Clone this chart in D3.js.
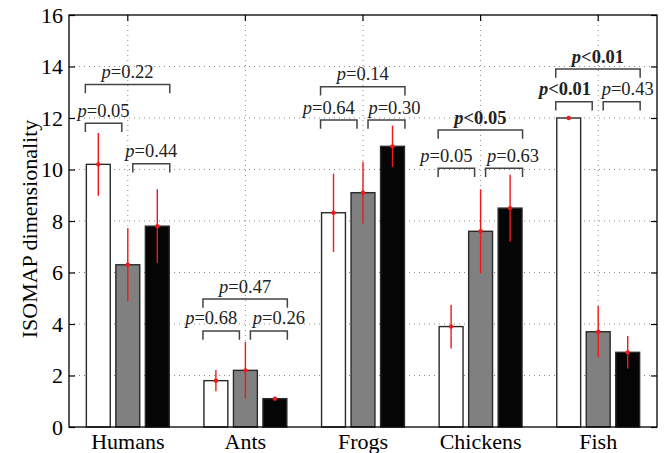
<!DOCTYPE html>
<html><head><meta charset="utf-8">
<script src="https://cdn.jsdelivr.net/npm/d3@7"></script>
<style>body{margin:0;background:#fff}svg{display:block}</style>
</head><body>
<svg id="chart" width="667" height="453"></svg>
<script>
const categories = ["Humans","Ants","Frogs","Chickens","Fish"];
const seriesNames = ["white","gray","black"];
const valuesWhite = [10.2, 1.8, 8.32, 3.9, 12.0];
const valuesGray  = [6.3, 2.2, 9.1, 7.6, 3.7];
const valuesBlack = [7.8, 1.1, 10.9, 8.5, 2.9];
const errWhite = [1.22, 0.41, 1.52, 0.85, 0.02];
const errGray  = [1.42, 1.1, 1.2, 1.63, 1.0];
const errBlack = [1.43, 0.07, 0.8, 1.3, 0.63];
const yTicks = [0,2,4,6,8,10,12,14,16];
// p-value annotations: white vs gray, gray vs black, white vs black
const pWG = ["=0.05","=0.68","=0.64","=0.05","<0.01"];
const pGB = ["=0.44","=0.26","=0.30","=0.63","=0.43"];
const pWB = ["=0.22","=0.47","=0.14","<0.05","<0.01"];
const boldWG = [false,false,false,false,true];
const boldGB = [false,false,false,false,false];
const boldWB = [false,false,false,true,true];
const levelWG = [11.8, 3.73, 11.92, 10.05, 12.63];
const levelGB = [10.22, 3.73, 11.92, 10.05, 12.63];
const levelWB = [13.3, 4.97, 13.21, 11.53, 13.9];
// horizontal nudge of the lower labels away from each other (px)
const nudgeWG = [0, -10, -10, -10, -9];
const nudgeGB = [0, 10, 8, 9, 6];

const values = [valuesWhite, valuesGray, valuesBlack];
const errs = [errWhite, errGray, errBlack];
const fills = ["#ffffff","#808080","#050505"];

const L = 69, R = 657, T = 15, B = 427;
const svg = d3.select("#chart");
const font = "'Liberation Serif','Times New Roman',serif";

const x = d3.scaleBand().domain(categories).range([L, R]).padding(0);
const cx = c => x(c) + x.bandwidth()/2;
const xs = d3.scaleBand().domain(seriesNames).range([-44.25, 44.25]).paddingInner(0.19).paddingOuter(0.095);
const y = d3.scaleLinear().domain([0,16]).range([B, T]);

// grid
const grid = svg.append("g").attr("stroke","#8a8a8a").attr("stroke-width",1).attr("stroke-dasharray","1,4");
grid.selectAll("line.h").data(yTicks.filter(t => t>0 && t<16)).join("line")
  .attr("x1",L).attr("x2",R).attr("y1",d=>y(d)).attr("y2",d=>y(d));
grid.selectAll("line.v").data(categories).join("line")
  .attr("x1",d=>cx(d)).attr("x2",d=>cx(d)).attr("y1",T).attr("y2",B);

// axes
const axL = d3.axisLeft(y).tickValues(yTicks).tickSize(-6).tickPadding(12).tickFormat(d3.format("d"));
const axR = d3.axisRight(y).tickValues(yTicks).tickSize(-6).tickFormat("");
const axT = d3.axisTop(x).tickSize(-6).tickFormat("");
const axB = d3.axisBottom(x).tickSize(-6).tickPadding(16);
function styleAxis(g){
  g.select(".domain").remove();
  g.selectAll(".tick line").attr("stroke","#000").attr("stroke-width",1.2);
  g.selectAll("text").attr("font-family",font).attr("font-size",22).attr("fill","#000");
}
svg.append("g").attr("transform",`translate(${L},0)`).call(axL).call(styleAxis)
  .selectAll("text").attr("x",-6).attr("dy","0.33em");
svg.append("g").attr("transform",`translate(${R},0)`).call(axR).call(styleAxis);
svg.append("g").attr("transform",`translate(0,${T})`).call(axT).call(styleAxis);
const gB = svg.append("g").attr("transform",`translate(0,${B})`).call(axB).call(styleAxis);
gB.selectAll("text").attr("y",null).attr("dy",null).attr("transform","translate(0,22)");

// bars
seriesNames.forEach((s,si) => {
  svg.append("g").selectAll("rect").data(categories).join("rect")
    .attr("x", c => cx(c) + xs(s))
    .attr("width", xs.bandwidth())
    .attr("y", (c,i) => y(values[si][i]))
    .attr("height", (c,i) => y(0) - y(values[si][i]))
    .attr("fill", fills[si]).attr("stroke","#2a2a2a").attr("stroke-width",1.4);
});

// error bars
seriesNames.forEach((s,si) => {
  const g = svg.append("g");
  categories.forEach((c,i) => {
    const xc = cx(c) + xs(s) + xs.bandwidth()/2;
    const v = values[si][i], e = errs[si][i];
    g.append("line").attr("x1",xc).attr("x2",xc).attr("y1",y(v+e)).attr("y2",y(v-e))
      .attr("stroke","#f01818").attr("stroke-width",1.4);
    g.append("circle").attr("cx",xc).attr("cy",y(v)).attr("r",2.2).attr("fill","#f01818");
  });
});

// brackets + p labels
const tickLen = 0.34;
function bracket(x1, x2, lvl, label, bold, nudge){
  const g = svg.append("g");
  g.append("path")
    .attr("d", `M${x1},${y(lvl - tickLen)}V${y(lvl)}H${x2}V${y(lvl - tickLen)}`)
    .attr("fill","none").attr("stroke","#444").attr("stroke-width",1.5);
  const t = g.append("text").attr("x",(x1+x2)/2 + nudge).attr("y",y(lvl)-6.5)
    .attr("text-anchor","middle").attr("font-family",font).attr("font-size",18.5)
    .attr("fill","#222").attr("font-weight", bold ? "bold" : "normal");
  t.append("tspan").attr("font-style","italic").text("p");
  t.append("tspan").text(label);
}
categories.forEach((c,i) => {
  const wl = cx(c) + xs("white") - 1;
  const gc = cx(c) + xs("gray") + xs.bandwidth()/2;
  const br = cx(c) + xs("black") + xs.bandwidth() + 0.5;
  bracket(wl, gc - 6, levelWG[i], pWG[i], boldWG[i], nudgeWG[i]);
  bracket(gc + 5, br, levelGB[i], pGB[i], boldGB[i], nudgeGB[i]);
  bracket(wl, br, levelWB[i], pWB[i], boldWB[i], 0);
});

// frame
svg.append("rect").attr("x",L).attr("y",T).attr("width",R-L).attr("height",B-T)
  .attr("fill","none").attr("stroke","#000").attr("stroke-width",1.3);

// y label
svg.append("text").attr("transform","translate(37,229) rotate(-90)")
  .attr("text-anchor","middle").attr("font-family",font).attr("font-size",22).attr("fill","#000")
  .text("ISOMAP dimensionality");
</script>
</body></html>
